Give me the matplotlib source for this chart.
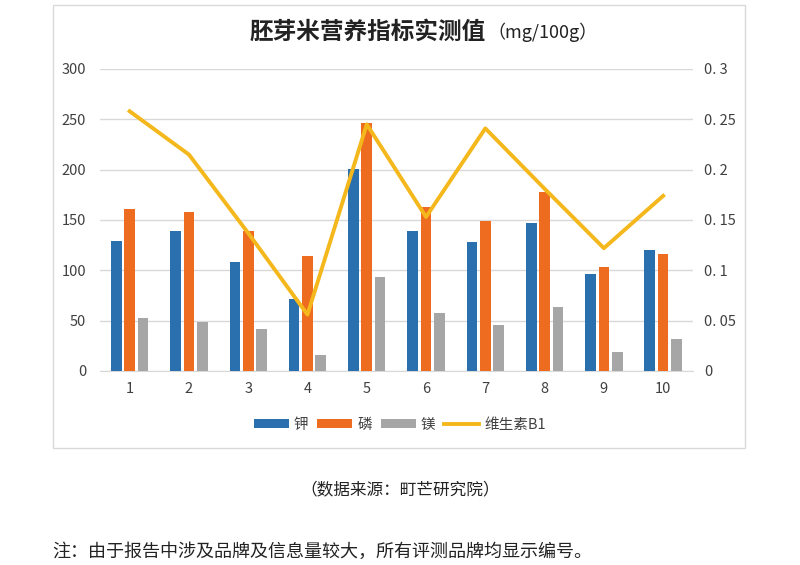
import matplotlib
matplotlib.use("Agg")
import matplotlib.pyplot as plt
import numpy as np
from matplotlib.patches import Rectangle

plt.rcParams['font.family'] = ['Noto Sans CJK SC', 'DejaVu Sans']

#---------------- data
brands = ['1', '2', '3', '4', '5', '6', '7', '8', '9', '10']
potassium = [129, 139, 108, 72, 201, 139, 128, 147, 96, 120]        # 钾
phosphorus = [161, 158, 139, 114, 246, 163, 149, 178, 103, 116]     # 磷
magnesium = [53, 49, 42, 16, 93, 58, 46, 64, 19, 32]                # 镁
vitamin_b1 = [0.258, 0.215, 0.137, 0.056, 0.245, 0.153, 0.241, 0.181, 0.122, 0.174]

left_ticks = [0, 50, 100, 150, 200, 250, 300]
right_ticks = [0, 0.05, 0.1, 0.15, 0.2, 0.25, 0.3]
right_labels = ['0', '0. 05', '0. 1', '0. 15', '0. 2', '0. 25', '0. 3']

c_blue = '#2a6fae'
c_orange = '#ee6c1f'
c_gray = '#a6a6a6'
c_yellow = '#f4b81c'
c_text = '#404040'

fig = plt.figure(figsize=(8, 5.65), dpi=100)

# chart border
fig.patches.append(Rectangle((0.066, 0.207), 0.865, 0.784, transform=fig.transFigure,
                             fill=False, edgecolor='#d9d9d9', linewidth=1, zorder=1))

ax = fig.add_axes([0.125, 0.3434, 0.741, 0.5345])
ax.patch.set_alpha(0)
x = np.arange(1, len(brands) + 1)
w = 0.18
off = 0.225
ax.bar(x - off, potassium, w, color=c_blue, label='钾', zorder=3)
ax.bar(x, phosphorus, w, color=c_orange, label='磷', zorder=3)
ax.bar(x + off, magnesium, w, color=c_gray, label='镁', zorder=3)

ax.set_xlim(0.5, 10.5)
ax.set_ylim(0, 300)
ax.set_yticks(left_ticks)
ax.set_xticks(x)
ax.set_xticklabels(brands)
ax.grid(axis='y', color='#d9d9d9', linewidth=1, zorder=0)
for s in ['top', 'right', 'left']:
    ax.spines[s].set_visible(False)
ax.spines['bottom'].set_color('#d9d9d9')
ax.tick_params(axis='both', length=0, labelsize=10.5, colors=c_text)
ax.tick_params(axis='y', pad=10)
ax.tick_params(axis='x', pad=8)

ax2 = ax.twinx()
ax2.plot(x, vitamin_b1, color=c_yellow, linewidth=2.8, label='维生素B1', zorder=4)
ax2.set_ylim(0, 0.3)
ax2.set_yticks(right_ticks)
ax2.set_yticklabels(right_labels)
ax2.tick_params(axis='y', length=0, labelsize=10.5, colors=c_text, pad=8)
for s in ['top', 'right', 'left', 'bottom']:
    ax2.spines[s].set_visible(False)

h1, l1 = ax.get_legend_handles_labels()
h2, l2 = ax2.get_legend_handles_labels()
fig.legend(h1 + h2, l1 + l2, loc='center', bbox_to_anchor=(0.5, 0.248), ncol=4,
           frameon=False, fontsize=10.5, handlelength=2.4, handleheight=0.55,
           columnspacing=0.6, handletextpad=0.35, labelcolor=c_text)

fig.text(0.607, 0.943, '胚芽米营养指标实测值', fontsize=17, fontweight='bold',
         color='#222222', ha='right', va='center')
fig.text(0.609, 0.943, '（mg/100g）', fontsize=13, color='#222222', ha='left', va='center')

fig.text(0.5, 0.133, '（数据来源：町芒研究院）', fontsize=12, color='#222222',
         ha='center', va='center')
fig.text(0.065, 0.023, '注：由于报告中涉及品牌及信息量较大，所有评测品牌均显示编号。',
         fontsize=13, color='#222222', ha='left', va='center')

fig.savefig('out.png', dpi=100)
